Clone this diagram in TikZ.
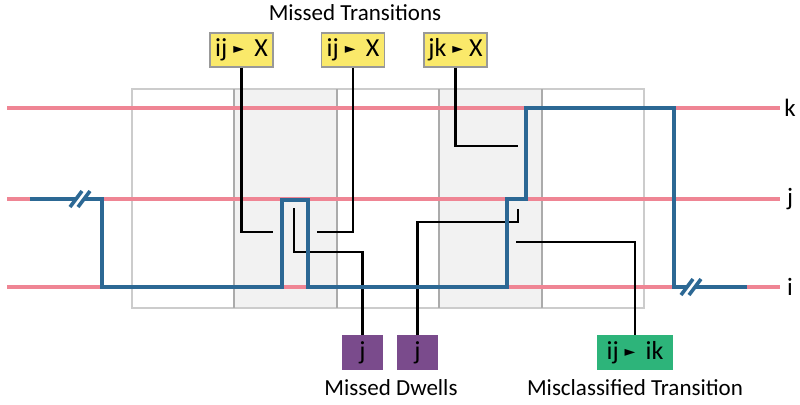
\documentclass[tikz,border=0pt]{standalone}
\usepackage{fontspec}
\setmainfont{Carlito}
\newfontfamily\symfont{DejaVu Sans}
\usetikzlibrary{positioning}

\definecolor{trackpink}{HTML}{EF8594}
\definecolor{pathblue}{HTML}{2C6894}
\definecolor{tryellow}{HTML}{FAE96A}
\definecolor{dwpurple}{HTML}{7A4B8C}
\definecolor{misgreen}{HTML}{2DB47A}
\definecolor{winshade}{HTML}{F2F2F2}

\newcommand{\pointer}{\raisebox{0.12em}{\symfont\fontsize{7}{7}\selectfont ►}}

\tikzset{
  track/.style={trackpink, line width=2.3pt},
  trace/.style={pathblue, line width=2pt},
  lead/.style={black, line width=1.2pt},
  window/.style={draw=black!20, line width=1pt},
  winedge/.style={draw=black!33, line width=1.3pt},
  missbox/.style={fill=tryellow, draw=black!40, line width=0.6pt, minimum width=31.5pt, minimum height=17pt, inner sep=0pt},
  dwellbox/.style={fill=dwpurple, minimum width=20.5pt, minimum height=17.5pt, inner sep=0pt},
  miscbox/.style={fill=misgreen, minimum width=38pt, minimum height=17.5pt, inner sep=0pt},
  caption/.style={font=\fontsize{11.5}{13}\selectfont, inner sep=0pt}
}

\begin{document}
\begin{tikzpicture}[x=0.5pt, y=-0.5pt, font=\fontsize{13}{14}\selectfont]

\useasboundingbox (0,0) rectangle (800,404);

% WINDOWS
\foreach \xa/\xb in {234/337, 439/542}
  \fill[winshade] (\xa,89) rectangle (\xb,308);
\draw[window] (132,89) rectangle (644,308);
\foreach \xa in {234, 337, 439, 542}
  \draw[winedge] (\xa,89) -- (\xa,308);

% STATE LINES
\draw[track] (7,108) -- (780,108);
\draw[track] (7,199) -- (780,199);
\draw[track] (7,287) -- (780,287);

\node[caption, font=\fontsize{12.5}{13}\selectfont] (lblK) at (790,108) {k};
\node[caption, font=\fontsize{12.5}{13}\selectfont] (lblJ) at (790,199) {j};
\node[caption, font=\fontsize{12.5}{13}\selectfont] (lblI) at (790,287) {i};

% MISSED TRANSITIONS
\node[caption] (missTitle) at (355,13) {Missed Transitions};
\node[missbox] (missIJa) at (241.5,50) {ij \pointer\ \,X};
\node[missbox] (missIJb) at (353,50) {ij \pointer\ \,X};
\node[missbox] (missJK) at (455.5,50) {jk \pointer\ X};

\coordinate (tipIJa) at (273,232);
\coordinate (tipIJb) at (317,232);
\coordinate (tipJK) at (518,146);

\draw[lead] (missIJa) |- (tipIJa);
\draw[lead] (missIJb) |- (tipIJb);
\draw[lead] (missJK) |- (tipJK);

% MISSED DWELLS
\node[dwellbox] (dwellA) at (362.5,352.5) {j};
\node[dwellbox] (dwellB) at (417.5,352.5) {j};
\node[caption] (dwellTitle) at (391,388) {Missed Dwells};

\coordinate (kneeDwA) at (294,252);
\coordinate (tipDwA) at (294,208);
\coordinate (kneeDwB) at (518,222);
\coordinate (tipDwB) at (518,209);

\draw[lead] (dwellA) |- (kneeDwA) -- (tipDwA);
\draw[lead] (dwellB) |- (kneeDwB) -- (tipDwB);

% MISCLASSIFIED
\node[miscbox] (misclIK) at (635,352.5) {ij \pointer\ \,ik};
\node[caption] (misclTitle) at (635,388) {Misclassified Transition};

\coordinate (tipMis) at (516,242);
\draw[lead] (misclIK) |- (tipMis);

% TRACE
\draw[trace] (30,199) -- (102,199) -- (102,287) -- (282,287) -- (282,200)
      -- (308,200) -- (308,287) -- (507,287) -- (507,199) -- (526,199)
      -- (526,108) -- (674,108) -- (674,287) -- (747,287);

% BREAKS
\foreach \bx/\by in {80/199, 691/287} {
  \fill[white] (\bx-6,\by+5) -- (\bx+2,\by-5) -- (\bx+7,\by-5) -- (\bx-1,\by+5) -- cycle;
  \draw[pathblue, line width=1.8pt] (\bx-10,\by+8) -- (\bx+2,\by-8);
  \draw[pathblue, line width=1.8pt] (\bx-2,\by+8) -- (\bx+10,\by-8);
}

\end{tikzpicture}
\end{document}
